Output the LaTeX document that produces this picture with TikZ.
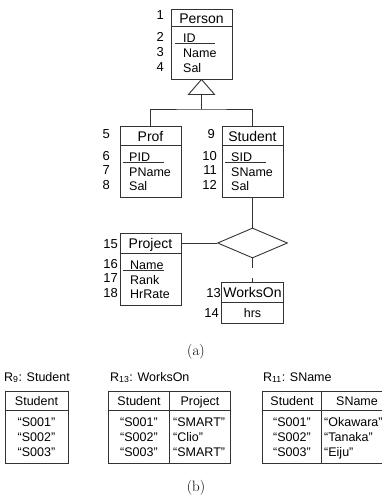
\documentclass[tikz,border=0pt]{standalone}
\usepackage{fontspec}
\newfontfamily\arialf{Liberation Sans}
\usetikzlibrary{shapes.geometric}
\tikzset{
  ln/.style={draw=black!80, line width=0.9pt},
  box/.style={ln, rectangle, inner sep=0pt, fill=white},
  hdr/.style={font=\arialf\fontsize{14}{14}\selectfont, inner sep=0pt, anchor=base},
  attr/.style={font=\arialf\fontsize{12.5}{12.5}\selectfont, inner sep=0pt, anchor=base west},
  num/.style={font=\arialf\fontsize{13}{13}\selectfont, inner sep=0pt, anchor=base east},
  tb/.style={font=\arialf\fontsize{12.5}{12.5}\selectfont, inner sep=0pt, anchor=base},
  tbl/.style={tb, anchor=base west},
  capt/.style={font=\fontsize{15}{15}\selectfont, inner sep=0pt, anchor=center},
}
\begin{document}
\begin{tikzpicture}[x=1pt,y=-1pt]
\useasboundingbox (0,0) rectangle (382,501);

% ---------- Person ----------
\node[box, minimum width=61pt, minimum height=70pt] (person) at (201.5,44) {};
\draw[ln] ([yshift=-18pt]person.north west) -- ([yshift=-18pt]person.north east);
\node[hdr] (personh) at (201.5,23) {Person};
\node[attr] (persona1) at (183,42.5) {ID};
\node[attr] (persona2) at (183,57.5) {Name};
\node[attr] (persona3) at (183,72.5) {Sal};
\draw[ln] ([xshift=-8pt,yshift=-1pt]persona1.base west) -- ++(40,0);
\node[num] (n1) at (164,19.7) {1};
\node[num] (n2) at (164,41) {2};
\node[num] (n3) at (164,56) {3};
\node[num] (n4) at (164,71) {4};

% ---------- Prof ----------
\node[box, minimum width=61pt, minimum height=71pt] (prof) at (150.5,161.5) {};
\draw[ln] ([yshift=-20pt]prof.north west) -- ([yshift=-20pt]prof.north east);
\node[hdr] (profh) at (150.5,141) {Prof};
\node[attr] (profa1) at (129,161.5) {PID};
\node[attr] (profa2) at (129,176) {PName};
\node[attr] (profa3) at (129,190.5) {Sal};
\draw[ln] ([xshift=-6pt,yshift=-1pt]profa1.base west) -- ++(41,0);
\node[num] (n5) at (110,138.7) {5};
\node[num] (n6) at (110,160) {6};
\node[num] (n7) at (110,174.5) {7};
\node[num] (n8) at (110,189) {8};

% ---------- Student ----------
\node[box, minimum width=61pt, minimum height=71pt] (student) at (252.5,161.5) {};
\draw[ln] ([yshift=-20pt]student.north west) -- ([yshift=-20pt]student.north east);
\node[hdr] (studenth) at (252.5,141) {Student};
\node[attr] (studenta1) at (231,161.5) {SID};
\node[attr] (studenta2) at (231,176) {SName};
\node[attr] (studenta3) at (231,190.5) {Sal};
\draw[ln] ([xshift=-6pt,yshift=-1pt]studenta1.base west) -- ++(41,0);
\node[num] (n9) at (215,138.7) {9};
\node[num] (n10) at (217,160) {10};
\node[num] (n11) at (217,174.5) {11};
\node[num] (n12) at (217,189) {12};

% ---------- Project ----------
\node[box, minimum width=61pt, minimum height=72pt] (project) at (150.5,269) {};
\draw[ln] ([yshift=-21pt]project.north west) -- ([yshift=-21pt]project.north east);
\node[hdr] (projecth) at (150.5,248.5) {Project};
\node[attr] (projecta1) at (130,269.5) {Name};
\node[attr] (projecta2) at (130,284) {Rank};
\node[attr] (projecta3) at (130,298.5) {HrRate};
\draw[ln] ([xshift=-7pt,yshift=-1pt]projecta1.base west) -- ++(41,0);
\node[num] (n15) at (118,248) {15};
\node[num] (n16) at (118,268) {16};
\node[num] (n17) at (118,282.5) {17};
\node[num] (n18) at (118,297) {18};

% ---------- WorksOn ----------
\node[box, minimum width=62pt, minimum height=41pt] (workson) at (252.5,302.5) {};
\draw[ln] ([yshift=-21pt]workson.north west) -- ([yshift=-21pt]workson.north east);
\node[hdr] (worksonh) at (252.5,297.5) {WorksOn};
\node[tb] (worksona1) at (252.5,317.5) {hrs};
\node[num] (n13) at (221,297) {13};
\node[num] (n14) at (219,317) {14};

% ---------- relationship ----------
\node[ln, diamond, minimum width=70pt, minimum height=30pt, inner sep=0pt] (rel) at (252.5,243) {};

% ---------- connectors ----------
\coordinate (tribase) at ([yshift=-15pt]person.south);
\coordinate (hub) at (201.5,109);
\draw[ln] (person.south) -- ++(-13,15) -- ++(26,0) -- cycle;
\draw[ln] (tribase) -- (hub);
\draw[ln] (prof.north) |- (hub) -| (student.north);
\draw[ln] (student.south) -- (rel.north);
\draw[ln] (rel.west) -- (rel.west -| project.east);
\draw[ln, dash pattern=on 10pt off 10pt] (rel.south) -- (workson.north);

\node[capt] (capa) at (196,352) {(a)};

% ---------- tables ----------
\node[tbl] (t9title) at (4,381) {R\textsubscript{9}: Student};
\node[box, minimum width=63pt, minimum height=72pt] (t9) at (36.5,427) {};
\draw[ln] ([yshift=-20pt]t9.north west) -- ([yshift=-20pt]t9.north east);
\node[tb] (t9h) at (36.5,405.5) {Student};
\node[tb] (t9r1) at (36.5,426.5) {“S001”};
\node[tb] (t9r2) at (36.5,441.5) {“S002”};
\node[tb] (t9r3) at (36.5,456.5) {“S003”};

\node[tbl] (t13title) at (110,381) {R\textsubscript{13}: WorksOn};
\node[box, minimum width=122pt, minimum height=72pt] (t13) at (169,427) {};
\draw[ln] ([yshift=-20pt]t13.north west) -- ([yshift=-20pt]t13.north east);
\draw[ln] ([xshift=62pt]t13.north west) -- ([xshift=62pt]t13.south west);
\node[tb] (t13h1) at (139,405.5) {Student};
\node[tb] (t13h2) at (200,405.5) {Project};
\node[tb] (t13r1) at (139,426.5) {“S001”};
\node[tb] (t13r2) at (139,441.5) {“S002”};
\node[tb] (t13r3) at (139,456.5) {“S003”};
\node[tbl] (t13p1) at (173,426.5) {“SMART”};
\node[tbl] (t13p2) at (173,441.5) {“Clio”};
\node[tbl] (t13p3) at (173,456.5) {“SMART”};

\node[tbl] (t11title) at (263,381) {R\textsubscript{11}: SName};
\node[box, minimum width=130pt, minimum height=72pt] (t11) at (327,427) {};
\draw[ln] ([yshift=-20pt]t11.north west) -- ([yshift=-20pt]t11.north east);
\draw[ln] ([xshift=60pt]t11.north west) -- ([xshift=60pt]t11.south west);
\node[tb] (t11h1) at (292,405.5) {Student};
\node[tb] (t11h2) at (357,405.5) {SName};
\node[tb] (t11r1) at (292,426.5) {“S001”};
\node[tb] (t11r2) at (292,441.5) {“S002”};
\node[tb] (t11r3) at (292,456.5) {“S003”};
\node[tbl] (t11s1) at (324,426.5) {“Okawara”};
\node[tbl] (t11s2) at (324,441.5) {“Tanaka”};
\node[tbl] (t11s3) at (324,456.5) {“Eiju”};

\node[capt] (capb) at (196,488) {(b)};
\end{tikzpicture}
\end{document}
